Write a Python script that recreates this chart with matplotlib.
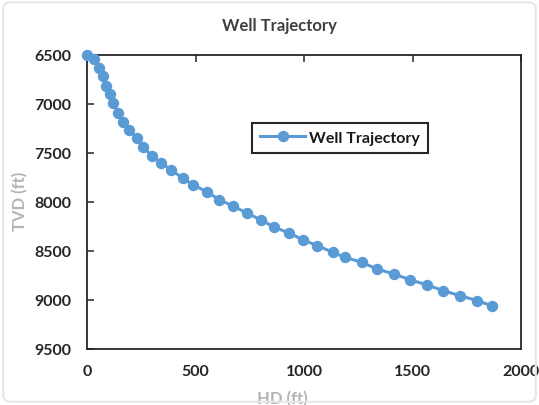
import matplotlib
matplotlib.use("Agg")
import matplotlib.pyplot as plt
from matplotlib.patches import FancyBboxPatch

# horizontal departure (ft) and true vertical depth (ft) at each survey station
hd = [0, 32, 55, 74, 87, 106, 120, 143, 166, 194, 230, 258, 300, 341, 387,
      441, 487, 552, 610, 675, 736, 800, 864, 930, 995, 1061, 1133, 1187,
      1267, 1336, 1415, 1488, 1568, 1642, 1719, 1799, 1865]
tvd = [6505, 6541, 6633, 6714, 6816, 6898, 6990, 7092, 7184, 7265, 7347, 7439,
       7531, 7600, 7670, 7758, 7823, 7895, 7977, 8044, 8112, 8181, 8258, 8316,
       8385, 8446, 8513, 8564, 8615, 8684, 8735, 8793, 8847, 8905, 8956, 9007,
       9058]

x_ticks = [0, 500, 1000, 1500, 2000]
y_ticks = [6500, 7000, 7500, 8000, 8500, 9000, 9500]

blue = "#5B9BD5"
dark = "#262626"
light = "#B4B4B4"

plt.rcParams["font.family"] = ["Lato", "DejaVu Sans"]
plt.rcParams["font.weight"] = "bold"

fig = plt.figure(figsize=(5.39, 4.06), dpi=100)
ax = fig.add_axes([87/539, 1-350/406, 434/539, 294/406])

ax.plot(hd, tvd, color=blue, linewidth=2.2, marker="o", markersize=7.2,
        label="Well Trajectory", clip_on=False, zorder=3)

ax.set_xlim(0, 2000)
ax.set_ylim(9500, 6500)
ax.set_xticks(x_ticks)
ax.set_yticks(y_ticks)
ax.tick_params(axis="x", top=True, bottom=False, labeltop=False, labelbottom=True,
               direction="in", length=5, width=1.1, pad=11, labelsize=11.5,
               labelcolor=dark, color=dark)
ax.tick_params(axis="y", direction="in", length=5, width=1.1, pad=11,
               labelsize=11.5, labelcolor=dark, color=dark)
for lab in ax.get_xticklabels() + ax.get_yticklabels():
    lab.set_fontweight("bold")
for sp in ax.spines.values():
    sp.set_linewidth(1.3)
    sp.set_color(dark)

ax.set_xlabel("HD (ft)", color=light, fontsize=12, fontweight="bold")
ax.xaxis.set_label_coords(0.449, -0.14)
ax.set_ylabel("TVD (ft)", color=light, fontsize=12, fontweight="bold")
ax.yaxis.set_label_coords(-0.135, 0.505)

leg = ax.legend(loc="center", bbox_to_anchor=(0.583, 0.718), fancybox=False,
                framealpha=1, edgecolor=dark, fontsize=11.5,
                handlelength=2.8, borderpad=0.5, handletextpad=0.25,
                borderaxespad=0)
leg.get_frame().set_linewidth(1.5)
for t in leg.get_texts():
    t.set_fontweight("bold")
    t.set_color("#1a1a1a")

fig.text(279/539, 1-26/406, "Well Trajectory", ha="center", va="center",
         fontsize=12, fontweight="bold", color="#404040")

# soft outer frame of the chart area
fig.patches.append(FancyBboxPatch((0.006, 0.008), 0.988, 0.984,
                                  boxstyle="round,pad=0,rounding_size=0.015",
                                  transform=fig.transFigure, fill=False,
                                  edgecolor="#E6E6E6", linewidth=1.5))

fig.savefig("out.png", dpi=100)
